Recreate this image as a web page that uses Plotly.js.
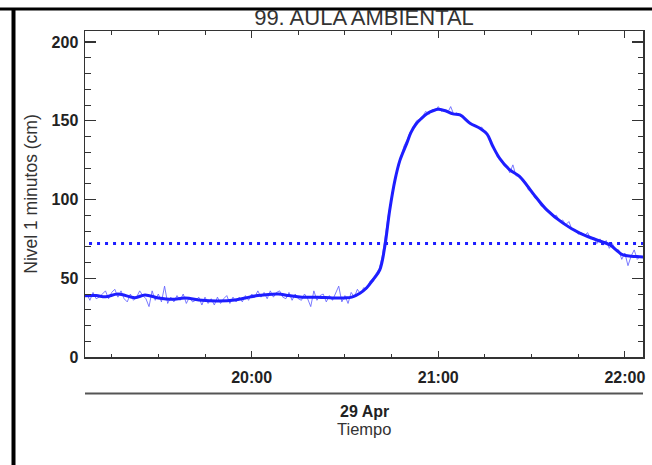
<!DOCTYPE html>
<html>
<head>
<meta charset="utf-8">
<script src="https://cdn.plot.ly/plotly-3.0.1.min.js"></script>
<style>
  html, body { margin: 0; padding: 0; background: #fff; }
  #chart { width: 652px; height: 465px; }
</style>
</head>
<body>
<div id="chart"></div>
<script>
// ---- Data ----
const dayStr = '2024-04-29';
const chartTitle = '99. AULA AMBIENTAL';
const yTitle = 'Nivel 1 minutos (cm)';
const xTitleDate = '29 Apr';
const xTitle = 'Tiempo';

// Raw 1-minute readings starting 19:06, one per minute
const rawStart = '2024-04-29 19:06';
const rawLevel = [
  37, 40, 36, 41, 37, 38, 40, 42, 37, 41,
  43, 38, 42, 37, 35, 40, 36, 38, 42, 39,
  37, 32, 42, 36, 40, 35, 45, 34, 38, 35,
  39, 36, 40, 34, 38, 35, 36, 38, 33, 38,
  34, 37, 33, 38, 34, 37, 39, 34, 38, 35,
  38, 35, 39, 36, 40, 38, 42, 38, 41, 37,
  42, 38, 41, 42, 38, 37, 41, 36, 40, 37,
  36, 40, 37, 32, 42, 36, 39, 40, 35, 39,
  36, 40, 45, 35, 39, 34, 41, 38, 43, 40,
  44, 43, 48, 50, 53, 56, 64, 77, 91, 100,
  113, 120, 127, 134, 138, 143, 145, 150, 151, 153,
  156, 154, 157, 156, 159, 156, 157, 155, 159, 154,
  155, 153, 152, 150, 149, 147, 147, 145, 146, 143,
  141, 136, 133, 127, 125, 122, 121, 117, 122, 115,
  115, 112, 111, 106, 105, 101, 100, 96, 95, 93,
  92, 89, 90, 86, 87, 84, 86, 81, 81, 78,
  79, 77, 79, 75, 76, 72, 75, 71, 74, 69,
  72, 68, 68, 62, 66, 58, 64, 68, 62, 64, 63
];

// Smoothed level
const smoothTimes = [
  '19:06', '19:10', '19:13', '19:17', '19:22:30', '19:25:42', '19:30', '19:34:24', '19:38:36',
  '19:44', '19:49:12', '19:54:36', '19:58', '20:02', '20:08:30', '20:12', '20:16:12',
  '20:21:18', '20:26', '20:30', '20:32:12', '20:34:48', '20:37', '20:39', '20:41:12',
  '20:42:48', '20:44:24', '20:46:06', '20:47:42', '20:49:54', '20:51:12', '20:52:48', '20:54:36',
  '20:56:36', '20:58:30', '20:59:54',
  '21:02', '21:04:42', '21:07', '21:10:12', '21:13:24', '21:15:42', '21:17:30', '21:19:48',
  '21:23', '21:26:12', '21:30:24', '21:34:54', '21:40:06', '21:45:30', '21:51', '21:55:12',
  '21:57:30', '21:59:24', '22:02', '22:04:48', '22:06:24'
];
const smoothLevel = [
  38.8, 39, 38.2, 40, 37.7, 39.4, 37.5, 36.6, 37.4,
  36, 35.6, 36.2, 37.5, 39, 40, 39, 38,
  38, 37.5, 37.5, 38, 40.5, 44, 48.9, 55.3,
  70, 93.4, 112.5, 125, 135.8, 142.5, 147.8, 151.5,
  154.8, 156.5, 157.3,
  156.5, 154.4, 153.7, 148.5, 145.2, 141.5, 134, 126,
  118.8, 114.5, 104, 93.4, 85, 78.6, 74.3, 71.2,
  67.5, 64.8, 64, 63.7, 63.5
];

// Reference (threshold) level
const refTimes = ['19:00', '22:10'];
const refLevel = [72, 72];

// Axis ranges
const xRange = ['19:06:25', '22:05:50'];
const yRange = [0, 207];
const yTickVals = [0, 50, 100, 150, 200];
const xTickVals = ['20:00', '21:00', '22:00'];
const xTickText = ['20:00', '21:00', '22:00'];

// ---- Build ----
const d = t => dayStr + ' ' + t;
const blue = '#1e1eff';

const traces = [
  {
    type: 'scatter', mode: 'lines',
    x0: rawStart, dx: 60000, y: rawLevel,
    line: { color: 'rgba(90,90,255,0.8)', width: 1 },
    hoverinfo: 'skip', showlegend: false
  },
  {
    type: 'scatter', mode: 'lines',
    x: smoothTimes.map(d), y: smoothLevel,
    line: { color: blue, width: 3, shape: 'spline', smoothing: 1 },
    showlegend: false
  },
  {
    type: 'scatter', mode: 'lines',
    x: refTimes.map(d), y: refLevel,
    line: { color: blue, width: 3, dash: '3px,5px' },
    showlegend: false
  }
];

// plot area: left 85, right 643, top 31, bottom 357
const px = v => (v - 85) / 558;
const py = v => (357 - v) / 326;
const axisColor = '#333';

const layout = {
  width: 652, height: 465,
  margin: { l: 85, r: 9, t: 31, b: 108 },
  paper_bgcolor: '#fff', plot_bgcolor: '#fff',
  font: { family: 'Liberation Sans, Arial, sans-serif', color: '#222' },
  showlegend: false,
  title: {
    text: chartTitle,
    font: { size: 22, color: '#333', family: 'Liberation Sans, Arial, sans-serif' },
    x: 0.5, xref: 'paper', xanchor: 'center',
    y: 1 - 17 / 465, yref: 'container', yanchor: 'middle'
  },
  xaxis: {
    type: 'date',
    range: xRange.map(d),
    tickvals: xTickVals.map(d), ticktext: xTickText,
    ticks: 'inside', ticklen: 6.5, tickwidth: 1.2, tickcolor: axisColor,
    minor: { ticks: 'inside', ticklen: 3.5, tickwidth: 1, tickcolor: axisColor, dtick: 15 * 60 * 1000, tick0: d('19:00') },
    showline: true, linecolor: axisColor, linewidth: 1.5, mirror: 'ticks',
    showgrid: false, zeroline: false,
    tickfont: { size: 16, weight: 'bold', color: '#222' },
    ticklabelstandoff: 5,
    fixedrange: true
  },
  yaxis: {
    range: yRange,
    tickvals: yTickVals,
    ticks: 'inside', ticklen: 11, tickwidth: 1.2, tickcolor: axisColor,
    minor: { ticks: 'inside', ticklen: 5.5, tickwidth: 1, tickcolor: axisColor, dtick: 10, tick0: 0 },
    showline: true, linecolor: axisColor, linewidth: 1.5, mirror: 'ticks',
    showgrid: false, zeroline: false,
    tickfont: { size: 16, weight: 'bold', color: '#222' },
    ticklabelstandoff: 2,
    title: { text: yTitle, font: { size: 17.5, color: '#333' }, standoff: 9 },
    automargin: false,
    fixedrange: true
  },
  shapes: [
    { type: 'line', xref: 'paper', yref: 'paper', x0: px(0), x1: px(652), y0: py(9), y1: py(9),
      line: { color: '#000', width: 3 } },
    { type: 'line', xref: 'paper', yref: 'paper', x0: px(13.5), x1: px(13.5), y0: py(8), y1: py(470),
      line: { color: '#000', width: 4 } },
    { type: 'line', xref: 'paper', yref: 'paper', x0: 0, x1: 1, y0: py(393.5), y1: py(393.5),
      line: { color: '#555', width: 2 } }
  ],
  annotations: [
    { xref: 'paper', yref: 'paper', x: 0.5, y: py(411), xanchor: 'center', yanchor: 'middle',
      text: '<b>' + xTitleDate + '</b>', showarrow: false, font: { size: 16, color: '#222' } },
    { xref: 'paper', yref: 'paper', x: 0.5, y: py(429), xanchor: 'center', yanchor: 'middle',
      text: xTitle, showarrow: false, font: { size: 16.5, color: '#333' } }
  ]
};

Plotly.newPlot('chart', traces, layout, { displayModeBar: false, staticPlot: true });
</script>
</body>
</html>
